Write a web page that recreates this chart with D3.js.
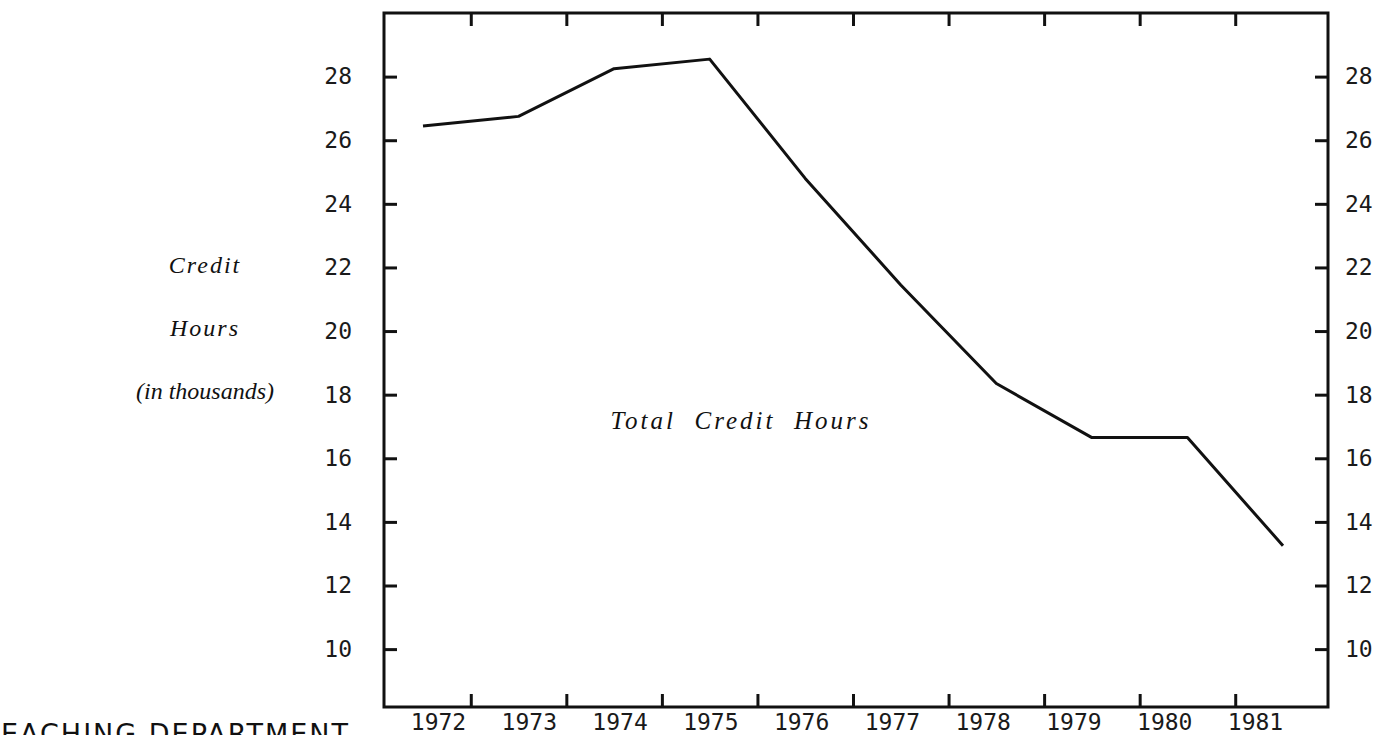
<!DOCTYPE html>
<html lang="en">
  <head>
    <meta charset="utf-8">
    <title>Total Credit Hours</title>
    <script src="https://cdn.jsdelivr.net/npm/d3@7"></script>
    <style>
      body { margin: 0; background: #fff; }
      .tick text {
        font-family: "DejaVu Sans Mono", monospace;
        font-size: 23px;
        fill: #1a1a1a;
      }
      .note {
        font-family: "Liberation Serif", serif;
        font-style: italic;
        font-size: 24px;
        fill: #111;
      }
      .big { font-size: 25px; letter-spacing: 3px; }
      .cut {
        font-family: "DejaVu Sans", sans-serif;
        font-size: 27px;
        letter-spacing: 2px;
        fill: #111;
      }
    </style>
  </head>
  <body>
    <div id="chart"></div>
    <script>
      const width = 1387;
      const height = 735;

      // data (thousands of credit hours)
      const years = [1972, 1973, 1974, 1975, 1976, 1977, 1978, 1979, 1980, 1981];
      const hours = [26.45, 26.75, 28.25, 28.55, 24.8, 21.45, 18.35, 16.65, 16.65, 13.25];
      const yTicks = [10, 12, 14, 16, 18, 20, 22, 24, 26, 28];
      const yearTicks = [1972.5, 1973.5, 1974.5, 1975.5, 1976.5, 1977.5, 1978.5, 1979.5, 1980.5];

      const frame = {left: 384, right: 1328, top: 13, bottom: 707};

      const svg = d3.select('#chart')
        .append('svg')
        .attr('width', width)
        .attr('height', height);

      // scales
      const x = d3.scaleLinear().domain([1972, 1981]).range([423, 1283]);
      const xLab = d3.scaleLinear().domain([1972, 1981]).range([438, 1255]);
      const y = d3.scaleLinear().domain([8.18, 30]).range([frame.bottom, frame.top]);

      // frame
      svg.append('rect')
        .attr('x', frame.left)
        .attr('y', frame.top)
        .attr('width', frame.right - frame.left)
        .attr('height', frame.bottom - frame.top)
        .attr('fill', 'none')
        .attr('stroke', '#111')
        .attr('stroke-width', 3);

      // inward tick marks on all four sides
      const tickStyle = g => {
        g.select('.domain').remove();
        g.selectAll('.tick line').attr('stroke', '#111').attr('stroke-width', 3);
      };
      svg.append('g')
        .attr('transform', `translate(${frame.left},0)`)
        .call(d3.axisRight(y).tickValues(yTicks).tickSize(13).tickFormat(''))
        .call(tickStyle);
      svg.append('g')
        .attr('transform', `translate(${frame.right},0)`)
        .call(d3.axisLeft(y).tickValues(yTicks).tickSize(13).tickFormat(''))
        .call(tickStyle);
      svg.append('g')
        .attr('transform', `translate(0,${frame.bottom})`)
        .call(d3.axisTop(x).tickValues(yearTicks).tickSize(13).tickFormat(''))
        .call(tickStyle);
      svg.append('g')
        .attr('transform', `translate(0,${frame.top})`)
        .call(d3.axisBottom(x).tickValues(yearTicks).tickSize(13).tickFormat(''))
        .call(tickStyle);

      // tick labels
      const labelStyle = g => {
        g.select('.domain').remove();
        g.selectAll('.tick line').remove();
      };
      svg.append('g')
        .attr('transform', `translate(${frame.left},0)`)
        .call(d3.axisLeft(y).tickValues(yTicks).tickSize(0).tickPadding(32).tickFormat(d3.format('d')))
        .call(labelStyle);
      svg.append('g')
        .attr('transform', `translate(${frame.right},0)`)
        .call(d3.axisRight(y).tickValues(yTicks).tickSize(0).tickPadding(17).tickFormat(d3.format('d')))
        .call(labelStyle);
      svg.append('g')
        .attr('transform', `translate(0,${frame.bottom})`)
        .call(d3.axisBottom(xLab).tickValues(years).tickSize(0).tickPadding(7).tickFormat(d3.format('d')))
        .call(labelStyle);

      // the series
      const line = d3.line()
        .x((d, i) => x(years[i]))
        .y(d => y(d));
      svg.append('path')
        .datum(hours)
        .attr('d', line)
        .attr('fill', 'none')
        .attr('stroke', '#111')
        .attr('stroke-width', 3)
        .attr('stroke-linejoin', 'round');

      // annotations
      svg.append('text').attr('class', 'note big')
        .attr('x', 741).attr('y', 429)
        .attr('text-anchor', 'middle')
        .attr('xml:space', 'preserve')
        .text('Total  Credit  Hours');

      const side = ['Credit', 'Hours', '(in thousands)'];
      svg.append('g')
        .selectAll('text').data(side).enter()
        .append('text')
        .attr('class', 'note')
        .attr('x', 205)
        .attr('y', (d, i) => 273 + i * 63)
        .attr('text-anchor', 'middle')
        .style('letter-spacing', d => d.length < 8 ? '2px' : '0px')
        .text(d => d);

      // caption cut off by the bottom edge of the scan
      svg.append('text').attr('class', 'cut')
        .attr('x', 350).attr('y', 743)
        .attr('text-anchor', 'end')
        .text('TEACHING DEPARTMENT');
    </script>
  </body>
</html>
